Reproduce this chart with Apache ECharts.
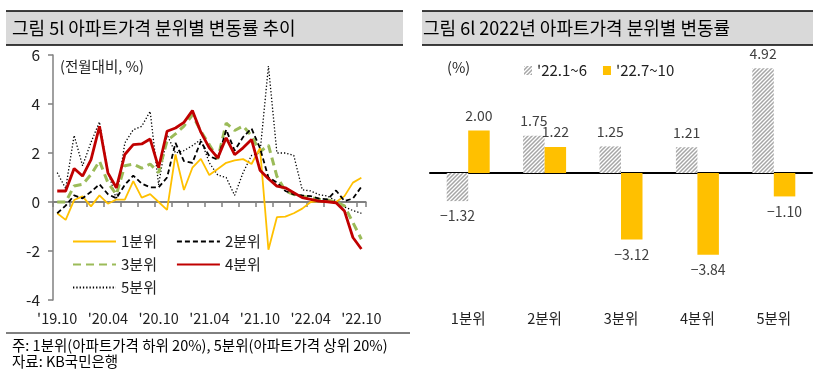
<!DOCTYPE html>
<html><head><meta charset="utf-8">
<script src="https://cdn.jsdelivr.net/npm/echarts@6/dist/echarts.min.js"></script>
<style>html,body{margin:0;padding:0;background:#fff}#c{width:820px;height:372px}</style>
</head><body><div id="c"></div>
<script>
// ---------- Left chart data (monthly, % m/m) ----------
const months = ["'19.10","'19.11","'19.12","'20.01","'20.02","'20.03","'20.04","'20.05","'20.06","'20.07","'20.08","'20.09",
  "'20.10","'20.11","'20.12","'21.01","'21.02","'21.03","'21.04","'21.05","'21.06","'21.07","'21.08","'21.09",
  "'21.10","'21.11","'21.12","'22.01","'22.02","'22.03","'22.04","'22.05","'22.06","'22.07","'22.08","'22.09","'22.10"];
const q1 = [-0.46,-0.73,0.08,0.23,-0.18,0.27,-0.07,0.10,0.10,0.85,0.18,0.32,0.00,-0.32,1.94,0.49,1.40,1.76,1.10,1.35,1.60,1.70,1.75,1.55,2.20,-1.95,-0.62,-0.60,-0.46,-0.27,0.00,0.04,0.00,0.00,0.24,0.79,0.99];
const q2 = [-0.46,-0.15,0.27,0.15,0.42,0.72,0.32,0.15,0.70,1.08,0.75,0.60,0.60,1.00,2.41,1.67,1.60,2.48,1.87,1.73,2.95,2.10,2.65,3.00,2.20,1.00,0.80,0.45,0.31,0.27,0.24,0.14,0.11,0.47,0.04,0.14,0.62];
const q3 = [0.00,0.00,0.65,0.72,1.12,1.67,0.79,0.31,1.48,1.55,1.38,1.55,1.20,2.50,2.78,3.10,3.55,2.89,2.34,1.76,3.22,2.92,3.10,2.70,2.05,2.32,1.05,0.45,0.31,0.24,0.18,0.11,0.08,0.00,-0.16,-0.84,-1.52];
const q4 = [0.45,0.45,1.37,1.06,1.73,3.09,1.19,0.58,1.94,2.34,2.37,2.57,1.40,2.89,3.02,3.25,3.73,2.85,2.21,1.80,2.62,1.93,2.21,2.55,1.30,0.95,0.65,0.58,0.38,0.18,0.11,0.04,0.01,-0.03,-0.37,-1.45,-1.92];
const q5 = [1.20,0.55,2.72,1.48,2.44,3.27,1.25,0.11,2.41,2.95,3.09,3.70,0.70,2.75,2.00,2.10,2.30,2.55,1.60,1.10,1.00,0.27,1.20,1.90,2.00,5.55,2.00,2.00,1.90,0.50,0.45,0.30,0.24,0.05,-0.20,-0.35,-0.46];
const lineNames = ['1분위','2분위','3분위','4분위','5분위'];
const yTicks = [-4, -2, 0, 2, 4, 6];

// ---------- Right chart data ----------
const quintiles = ['1분위','2분위','3분위','4분위','5분위'];
const h1_2022 = [-1.32, 1.75, 1.25, 1.21, 4.92];
const h2_2022 = [2.00, 1.22, -3.12, -3.84, -1.10];
const barNames = ["'22.1~6", "'22.7~10"];

// hatch pattern
const pc = document.createElement('canvas');
pc.width = 4; pc.height = 4;
const g = pc.getContext('2d');
g.fillStyle = '#ffffff'; g.fillRect(0,0,4,4);
g.strokeStyle = '#a6a6a6'; g.lineWidth = 1.5;
g.beginPath();
g.moveTo(0,4); g.lineTo(4,0);
g.moveTo(-1,1); g.lineTo(1,-1);
g.moveTo(3,5); g.lineTo(5,3);
g.stroke();
const hatch = {image: pc, repeat: 'repeat'};

const FONT = '"Noto Sans CJK KR", "Noto Sans", sans-serif';
const fmtNum = v => (v < 0 ? '\u2212' : '') + Math.abs(v).toFixed(2);
const barData = arr => arr.map(v => ({value: v, label: {position: v < 0 ? 'bottom' : 'top'}}));

const chart = echarts.init(document.getElementById('c'), null, {renderer: 'canvas'});
const lineCommon = {type: 'line', xAxisIndex: 0, yAxisIndex: 0, symbol: 'none', smooth: false};
const lineLegend = {left: 67, itemWidth: 43, itemHeight: 14, itemGap: 19, itemStyle: {opacity: 0}, textStyle: {fontSize: 15, color: '#222'}};
const option = {
  animation: false,
  textStyle: {fontFamily: FONT},
  graphic: [
    {type: 'rect', shape: {x: 6, y: 11, width: 397, height: 34}, style: {fill: '#d9d9d9'}},
    {type: 'line', shape: {x1: 6, y1: 11, x2: 403, y2: 11}, style: {stroke: '#000', lineWidth: 1.5}},
    {type: 'line', shape: {x1: 6, y1: 45, x2: 403, y2: 45}, style: {stroke: '#000', lineWidth: 1.5}},
    {type: 'text', x: 12, y: 28, style: {text: '그림 5l 아파트가격 분위별 변동률 추이', font: '18px ' + FONT, fill: '#000', textVerticalAlign: 'middle'}},
    {type: 'rect', shape: {x: 422, y: 11, width: 391, height: 34}, style: {fill: '#d9d9d9'}},
    {type: 'line', shape: {x1: 422, y1: 11, x2: 813, y2: 11}, style: {stroke: '#000', lineWidth: 1.5}},
    {type: 'line', shape: {x1: 422, y1: 45, x2: 813, y2: 45}, style: {stroke: '#000', lineWidth: 1.5}},
    {type: 'text', x: 423, y: 28, style: {text: '그림 6l 2022년 아파트가격 분위별 변동률', font: '18px ' + FONT, fill: '#000', textVerticalAlign: 'middle'}},
    {type: 'text', x: 60, y: 66, style: {text: '(전월대비, %)', font: '14.5px ' + FONT, fill: '#222', textVerticalAlign: 'middle'}},
    {type: 'text', x: 447, y: 67, style: {text: '(%)', font: '14.5px ' + FONT, fill: '#222', textVerticalAlign: 'middle'}},
    {type: 'line', shape: {x1: 6, y1: 333, x2: 410, y2: 333}, style: {stroke: '#000', lineWidth: 1}},
    {type: 'text', x: 12, y: 345, style: {text: '주: 1분위(아파트가격 하위 20%), 5분위(아파트가격 상위 20%)', font: '14.5px ' + FONT, fill: '#000', textVerticalAlign: 'middle'}},
    {type: 'text', x: 12, y: 361, style: {text: '자료: KB국민은행', font: '14.5px ' + FONT, fill: '#000', textVerticalAlign: 'middle'}}
  ],
  legend: [
    Object.assign({data: ['1분위','2분위'], top: 229}, lineLegend),
    Object.assign({data: ['3분위','4분위'], top: 252}, lineLegend),
    Object.assign({data: ['5분위'], top: 275}, lineLegend),
    {data: barNames, left: 519, top: 58, itemWidth: 8, itemHeight: 9, itemGap: 16, icon: 'rect', textStyle: {fontSize: 15, color: '#222'}}
  ],
  grid: [
    {left: 53, top: 55, width: 312.6, height: 245},
    {left: 430, top: 45.2, width: 382, height: 234.3}
  ],
  xAxis: [
    {gridIndex: 0, type: 'category', data: months, boundaryGap: true,
     axisLine: {onZero: true, lineStyle: {color: '#808080', width: 2}},
     axisTick: {show: true, interval: 1, length: 5, lineStyle: {color: '#808080', width: 1.5}},
     axisLabel: {show: false}},
    {gridIndex: 0, type: 'category', data: months, position: 'bottom', boundaryGap: true,
     axisLine: {show: false, onZero: false}, axisTick: {show: false},
     axisLabel: {interval: 5, margin: 11, fontSize: 14.5, color: '#222'}},
    {gridIndex: 1, type: 'category', data: quintiles,
     axisLine: {onZero: true, lineStyle: {color: '#000', width: 2}}, axisTick: {show: false}, axisLabel: {show: false}},
    {gridIndex: 1, type: 'category', data: quintiles, position: 'bottom',
     axisLine: {show: false, onZero: false}, axisTick: {show: false},
     axisLabel: {margin: 32, fontSize: 14.5, color: '#222'}}
  ],
  yAxis: [
    {gridIndex: 0, type: 'value', min: yTicks[0], max: yTicks[yTicks.length-1], interval: 2,
     axisLine: {show: true, lineStyle: {color: '#808080', width: 1.5}},
     axisTick: {show: true, length: 5, lineStyle: {color: '#808080', width: 1.5}},
     splitLine: {show: false},
     axisLabel: {margin: 13, fontSize: 15.5, color: '#222'}},
    {gridIndex: 1, type: 'value', min: -5, max: 6, show: false, splitLine: {show: false}}
  ],
  series: [
    Object.assign({}, lineCommon, {name: lineNames[0], data: q1, z: 3, lineStyle: {color: '#FFC000', width: 1.8}, itemStyle: {color: '#FFC000'}}),
    Object.assign({}, lineCommon, {name: lineNames[1], data: q2, z: 4, lineStyle: {color: '#000', width: 1.8, type: [5, 3]}, itemStyle: {color: '#000'}}),
    Object.assign({}, lineCommon, {name: lineNames[2], data: q3, z: 2, lineStyle: {color: '#9BBB59', width: 3, type: [8, 5]}, itemStyle: {color: '#9BBB59'}}),
    Object.assign({}, lineCommon, {name: lineNames[3], data: q4, z: 5, lineStyle: {color: '#C00000', width: 2.8}, itemStyle: {color: '#C00000'}}),
    Object.assign({}, lineCommon, {name: lineNames[4], data: q5, z: 1, lineStyle: {color: '#000', width: 1.3, type: [1.3, 2]}, itemStyle: {color: '#000'}}),
    {name: barNames[0], type: 'bar', xAxisIndex: 2, yAxisIndex: 1, data: barData(h1_2022), barWidth: 21.5, barGap: '0%',
     itemStyle: {color: hatch},
     label: {show: true, distance: 8, fontSize: 14, color: '#404040', formatter: p => fmtNum(p.value)}},
    {name: barNames[1], type: 'bar', xAxisIndex: 2, yAxisIndex: 1, data: barData(h2_2022), barWidth: 21.5, barGap: '0%',
     itemStyle: {color: '#FFC000'},
     label: {show: true, distance: 8, fontSize: 14, color: '#404040', formatter: p => fmtNum(p.value)}}
  ]
};
chart.setOption(option);
</script>
</body></html>
